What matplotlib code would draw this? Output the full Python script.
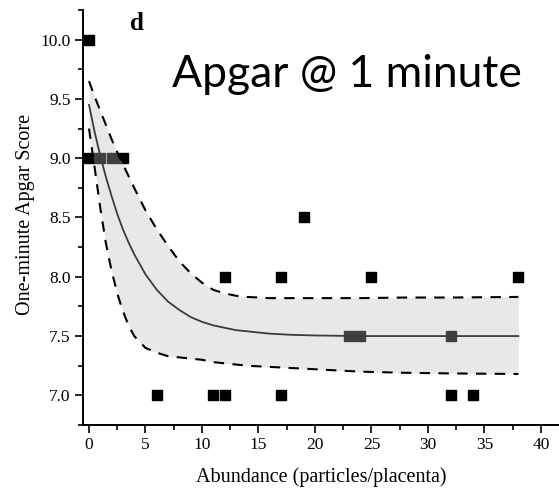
import numpy as np
import matplotlib.pyplot as plt
from matplotlib.ticker import MultipleLocator

# observed points
abund = [0, 0, 1, 2, 3, 6, 11, 12, 12, 17, 17, 19, 23, 24, 25, 32, 32, 34, 38]
apgar = [10, 9, 9, 9, 9, 7, 7, 7, 8, 8, 7, 8.5, 7.5, 7.5, 8, 7.5, 7, 7, 8]

# fitted curve and confidence band
fit_x = [0, 0.5, 1, 1.5, 2, 2.5, 3, 3.5, 4, 5, 6, 7, 8, 9, 10, 11, 12, 13, 14, 16, 18, 20, 24, 28, 32, 38]
fit_y = [9.45, 9.22, 9.02, 8.84, 8.68, 8.53, 8.40, 8.29, 8.19, 8.02, 7.89, 7.79, 7.72, 7.66, 7.62, 7.59, 7.57, 7.55, 7.54, 7.52, 7.51, 7.505, 7.50, 7.50, 7.50, 7.50]
upper = [9.65, 9.52, 9.40, 9.28, 9.16, 9.05, 8.95, 8.85, 8.75, 8.56, 8.40, 8.26, 8.13, 8.03, 7.95, 7.89, 7.86, 7.84, 7.83, 7.82, 7.82, 7.82, 7.82, 7.825, 7.825, 7.83]
lower = [9.25, 8.92, 8.58, 8.28, 8.05, 7.86, 7.71, 7.59, 7.50, 7.40, 7.36, 7.33, 7.32, 7.31, 7.30, 7.28, 7.27, 7.26, 7.25, 7.24, 7.23, 7.22, 7.20, 7.19, 7.185, 7.18]

plt.rcParams['font.family'] = ['Liberation Serif', 'DejaVu Serif']

fig = plt.figure(figsize=(5.59, 4.92), dpi=100)
ax = fig.add_axes([0.1485, 0.1362, 0.8515, 0.8435])

ax.scatter(abund, apgar, marker='s', s=46, color='black', zorder=2)
ax.fill_between(fit_x, lower, upper, color='#bebebe', alpha=0.34, linewidth=0, zorder=3)
ax.plot(fit_x, fit_y, color='#3c3c3c', lw=1.3, zorder=4)
ax.plot(fit_x, upper, color='black', lw=1.5, ls=(0, (5, 4)), zorder=4)
ax.plot(fit_x, lower, color='black', lw=1.5, ls=(0, (5, 4)), zorder=4)

ax.set_xlim(-0.53, 41.6)
ax.set_ylim(6.75, 10.25)
ax.xaxis.set_major_locator(MultipleLocator(5))
ax.xaxis.set_minor_locator(MultipleLocator(2.5))
ax.yaxis.set_major_locator(MultipleLocator(0.5))
ax.yaxis.set_minor_locator(MultipleLocator(0.25))
ax.yaxis.set_major_formatter(plt.FormatStrFormatter('%.1f'))

for s in ['top', 'right']:
    ax.spines[s].set_visible(False)
for s in ['left', 'bottom']:
    ax.spines[s].set_linewidth(1.4)
ax.tick_params(which='major', direction='out', length=6, width=1.2, labelsize=12.5, pad=3)
ax.tick_params(which='minor', direction='out', length=3.5, width=1.2)

ax.set_xlabel('Abundance (particles/placenta)', fontsize=14.5, labelpad=10)
fig.text(0.046, 0.565, 'One-minute Apgar Score', fontsize=14.5, rotation=90,
         ha='center', va='center')

fig.text(0.245, 0.953, 'd', fontsize=18, fontweight='bold', ha='center', va='center')
fig.text(0.308, 0.823, 'Apgar @ 1 minute', fontsize=32, ha='left', va='baseline',
         family=['Lato', 'DejaVu Sans'])

fig.savefig('out.png', dpi=100)
